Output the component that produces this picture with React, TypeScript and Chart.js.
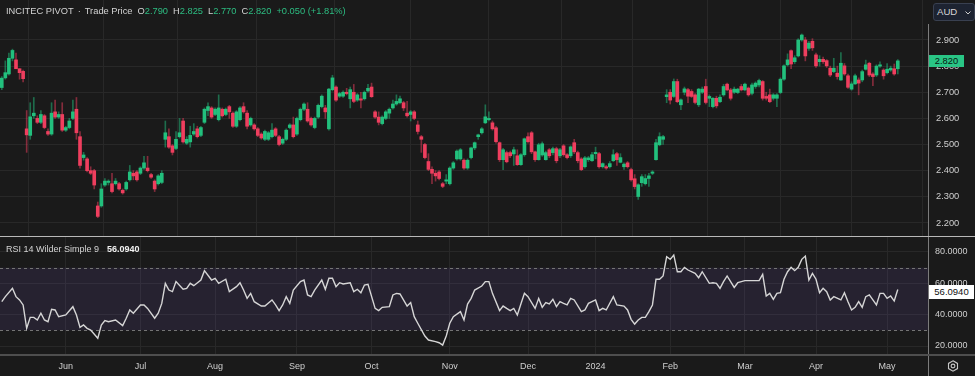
import React, { useEffect, useRef } from "react";
import { Chart, registerables } from "chart.js";

Chart.register(...registerables);

// ---------- DATA ----------
const openPrices = [
  2.718, 2.755, 2.77, 2.83, 2.824, 2.79, 2.78, 2.56, 2.535, 2.61,
  2.60, 2.585, 2.61, 2.55, 2.54, 2.625, 2.605, 2.615, 2.555, 2.565,
  2.60, 2.635, 2.53, 2.45, 2.445, 2.40, 2.40, 2.265, 2.265, 2.345,
  2.355, 2.35, 2.35, 2.35, 2.325, 2.33, 2.365, 2.39, 2.395, 2.39,
  2.41, 2.41, 2.385, 2.36, 2.35, 2.355, 2.52, 2.53, 2.495, 2.485,
  2.53, 2.59, 2.505, 2.51, 2.54, 2.56, 2.535, 2.585, 2.63, 2.64,
  2.615, 2.595, 2.635, 2.615, 2.645, 2.62, 2.57, 2.595, 2.645, 2.62,
  2.575, 2.575, 2.56, 2.54, 2.52, 2.52, 2.53, 2.56, 2.53, 2.505,
  2.52, 2.565, 2.575, 2.54, 2.595, 2.635, 2.635, 2.60, 2.565, 2.605,
  2.645, 2.64, 2.56, 2.71, 2.72, 2.685, 2.685, 2.70, 2.675, 2.70,
  2.67, 2.675, 2.675, 2.705, 2.72, 2.625, 2.605, 2.58, 2.60, 2.62,
  2.64, 2.655, 2.66, 2.66, 2.62, 2.615, 2.625, 2.575, 2.53, 2.50,
  2.435, 2.405, 2.39, 2.395, 2.35, 2.36, 2.35, 2.41, 2.445, 2.445,
  2.44, 2.41, 2.45, 2.487, 2.53, 2.545, 2.583, 2.595, 2.583, 2.564,
  2.507, 2.442, 2.469, 2.469, 2.464, 2.457, 2.423, 2.461, 2.53, 2.545,
  2.472, 2.442, 2.46, 2.442, 2.48, 2.469, 2.484, 2.457, 2.495, 2.461,
  2.457, 2.507, 2.469, 2.445, 2.415, 2.442, 2.438, 2.465, 2.465, 2.415,
  2.415, 2.415, 2.438, 2.465, 2.432, 2.415, 2.43, 2.404, 2.369, 2.301,
  2.354, 2.35, 2.37, 2.39, 2.442, 2.499, 2.52, 2.683, 2.70, 2.684,
  2.741, 2.652, 2.70, 2.71, 2.703, 2.69, 2.652, 2.70, 2.722, 2.677,
  2.645, 2.677, 2.664, 2.69, 2.731, 2.709, 2.70, 2.699, 2.722, 2.709,
  2.716, 2.696, 2.722, 2.728, 2.741, 2.684, 2.69, 2.677, 2.677, 2.699,
  2.75, 2.805, 2.859, 2.817, 2.839, 2.90, 2.90, 2.868, 2.895, 2.843,
  2.817, 2.826, 2.821, 2.792, 2.779, 2.773, 2.747, 2.801, 2.763, 2.712,
  2.732, 2.747, 2.747, 2.788, 2.811, 2.77, 2.766, 2.80, 2.785, 2.775,
  2.785, 2.79, 2.79,
];

const highPrices = [
  2.76, 2.82, 2.85, 2.865, 2.85, 2.79, 2.785, 2.63, 2.66, 2.68,
  2.61, 2.63, 2.615, 2.56, 2.66, 2.67, 2.625, 2.66, 2.57, 2.60,
  2.67, 2.68, 2.55, 2.47, 2.45, 2.415, 2.405, 2.28, 2.35, 2.37,
  2.365, 2.39, 2.37, 2.355, 2.33, 2.36, 2.42, 2.40, 2.40, 2.415,
  2.455, 2.455, 2.39, 2.365, 2.385, 2.40, 2.59, 2.56, 2.50, 2.55,
  2.60, 2.60, 2.53, 2.57, 2.58, 2.57, 2.57, 2.64, 2.66, 2.645,
  2.64, 2.69, 2.64, 2.64, 2.65, 2.625, 2.63, 2.645, 2.66, 2.63,
  2.605, 2.58, 2.565, 2.545, 2.555, 2.55, 2.58, 2.565, 2.535, 2.525,
  2.56, 2.58, 2.605, 2.605, 2.64, 2.66, 2.66, 2.605, 2.605, 2.655,
  2.69, 2.65, 2.715, 2.765, 2.725, 2.70, 2.705, 2.715, 2.72, 2.73,
  2.695, 2.70, 2.705, 2.73, 2.735, 2.63, 2.625, 2.61, 2.63, 2.64,
  2.67, 2.69, 2.685, 2.665, 2.665, 2.63, 2.63, 2.59, 2.535, 2.505,
  2.465, 2.415, 2.40, 2.40, 2.355, 2.385, 2.415, 2.435, 2.48, 2.485,
  2.445, 2.445, 2.49, 2.51, 2.54, 2.565, 2.652, 2.625, 2.59, 2.57,
  2.51, 2.485, 2.475, 2.475, 2.49, 2.48, 2.465, 2.525, 2.545, 2.55,
  2.475, 2.505, 2.51, 2.475, 2.485, 2.49, 2.49, 2.485, 2.50, 2.465,
  2.495, 2.52, 2.475, 2.45, 2.455, 2.455, 2.47, 2.49, 2.47, 2.43,
  2.42, 2.435, 2.48, 2.47, 2.465, 2.43, 2.435, 2.41, 2.385, 2.35,
  2.385, 2.385, 2.39, 2.40, 2.52, 2.545, 2.535, 2.71, 2.71, 2.751,
  2.75, 2.675, 2.72, 2.715, 2.71, 2.695, 2.715, 2.72, 2.75, 2.69,
  2.68, 2.685, 2.69, 2.73, 2.735, 2.715, 2.72, 2.715, 2.73, 2.735,
  2.72, 2.735, 2.74, 2.75, 2.745, 2.70, 2.712, 2.695, 2.695, 2.755,
  2.805, 2.847, 2.862, 2.84, 2.905, 2.923, 2.91, 2.895, 2.905, 2.85,
  2.84, 2.835, 2.825, 2.80, 2.83, 2.80, 2.852, 2.81, 2.77, 2.74,
  2.77, 2.755, 2.785, 2.823, 2.815, 2.775, 2.805, 2.816, 2.79, 2.81,
  2.80, 2.808, 2.825,
];

const lowPrices = [
  2.71, 2.75, 2.765, 2.82, 2.79, 2.75, 2.74, 2.47, 2.52, 2.60,
  2.58, 2.58, 2.56, 2.535, 2.535, 2.60, 2.60, 2.55, 2.55, 2.56,
  2.595, 2.52, 2.41, 2.44, 2.395, 2.385, 2.33, 2.22, 2.26, 2.34,
  2.345, 2.315, 2.345, 2.325, 2.31, 2.325, 2.36, 2.365, 2.36, 2.385,
  2.405, 2.395, 2.37, 2.32, 2.345, 2.35, 2.49, 2.485, 2.46, 2.48,
  2.525, 2.505, 2.50, 2.49, 2.535, 2.525, 2.53, 2.58, 2.61, 2.60,
  2.61, 2.59, 2.605, 2.61, 2.60, 2.565, 2.565, 2.59, 2.62, 2.56,
  2.57, 2.555, 2.53, 2.52, 2.515, 2.515, 2.525, 2.53, 2.495, 2.50,
  2.515, 2.56, 2.525, 2.535, 2.59, 2.63, 2.585, 2.57, 2.56, 2.60,
  2.64, 2.60, 2.555, 2.705, 2.665, 2.68, 2.68, 2.69, 2.64, 2.66,
  2.665, 2.64, 2.67, 2.70, 2.68, 2.60, 2.575, 2.575, 2.595, 2.60,
  2.635, 2.65, 2.655, 2.63, 2.605, 2.59, 2.595, 2.54, 2.47, 2.445,
  2.40, 2.35, 2.36, 2.365, 2.335, 2.35, 2.345, 2.405, 2.44, 2.44,
  2.405, 2.405, 2.445, 2.48, 2.52, 2.54, 2.58, 2.59, 2.555, 2.505,
  2.435, 2.404, 2.43, 2.45, 2.42, 2.42, 2.42, 2.455, 2.505, 2.465,
  2.435, 2.44, 2.455, 2.44, 2.45, 2.46, 2.43, 2.45, 2.455, 2.445,
  2.45, 2.465, 2.43, 2.40, 2.41, 2.435, 2.435, 2.445, 2.41, 2.41,
  2.405, 2.41, 2.435, 2.42, 2.43, 2.405, 2.41, 2.36, 2.33, 2.29,
  2.34, 2.345, 2.34, 2.385, 2.44, 2.495, 2.50, 2.66, 2.655, 2.68,
  2.66, 2.633, 2.69, 2.66, 2.68, 2.655, 2.645, 2.695, 2.655, 2.645,
  2.64, 2.64, 2.66, 2.685, 2.705, 2.67, 2.695, 2.695, 2.705, 2.705,
  2.685, 2.69, 2.715, 2.72, 2.67, 2.67, 2.66, 2.67, 2.645, 2.695,
  2.745, 2.80, 2.79, 2.81, 2.835, 2.895, 2.82, 2.86, 2.86, 2.795,
  2.80, 2.81, 2.795, 2.76, 2.775, 2.75, 2.745, 2.765, 2.715, 2.708,
  2.73, 2.69, 2.74, 2.785, 2.76, 2.725, 2.76, 2.795, 2.75, 2.77,
  2.78, 2.765, 2.77,
];

const closePrices = [
  2.754, 2.775, 2.83, 2.86, 2.79, 2.775, 2.752, 2.537, 2.606, 2.62,
  2.585, 2.615, 2.565, 2.54, 2.62, 2.605, 2.615, 2.555, 2.565, 2.59,
  2.625, 2.545, 2.42, 2.46, 2.40, 2.39, 2.345, 2.225, 2.33, 2.36,
  2.36, 2.32, 2.36, 2.33, 2.315, 2.355, 2.395, 2.38, 2.365, 2.41,
  2.43, 2.40, 2.375, 2.33, 2.38, 2.39, 2.545, 2.49, 2.47, 2.52,
  2.545, 2.51, 2.52, 2.535, 2.55, 2.53, 2.565, 2.635, 2.645, 2.605,
  2.635, 2.64, 2.61, 2.635, 2.625, 2.57, 2.625, 2.64, 2.625, 2.57,
  2.60, 2.56, 2.535, 2.525, 2.55, 2.545, 2.555, 2.535, 2.50, 2.52,
  2.555, 2.575, 2.53, 2.60, 2.635, 2.655, 2.59, 2.575, 2.60, 2.65,
  2.685, 2.625, 2.712, 2.755, 2.67, 2.695, 2.70, 2.695, 2.71, 2.665,
  2.69, 2.67, 2.70, 2.715, 2.683, 2.605, 2.585, 2.605, 2.625, 2.635,
  2.655, 2.665, 2.675, 2.64, 2.61, 2.625, 2.60, 2.55, 2.52, 2.45,
  2.405, 2.39, 2.38, 2.37, 2.34, 2.365, 2.41, 2.43, 2.475, 2.48,
  2.41, 2.44, 2.487, 2.507, 2.537, 2.56, 2.606, 2.60, 2.56, 2.511,
  2.442, 2.48, 2.434, 2.457, 2.48, 2.423, 2.461, 2.522, 2.511, 2.472,
  2.442, 2.499, 2.503, 2.469, 2.457, 2.484, 2.438, 2.48, 2.461, 2.45,
  2.491, 2.472, 2.438, 2.404, 2.449, 2.449, 2.461, 2.47, 2.415, 2.427,
  2.41, 2.427, 2.461, 2.442, 2.45, 2.425, 2.415, 2.365, 2.339, 2.346,
  2.377, 2.37, 2.38, 2.395, 2.507, 2.53, 2.53, 2.69, 2.67, 2.741,
  2.664, 2.671, 2.713, 2.685, 2.684, 2.661, 2.712, 2.712, 2.661, 2.684,
  2.677, 2.648, 2.681, 2.722, 2.709, 2.677, 2.712, 2.712, 2.709, 2.731,
  2.69, 2.728, 2.735, 2.745, 2.677, 2.677, 2.664, 2.69, 2.69, 2.75,
  2.801, 2.824, 2.808, 2.832, 2.90, 2.919, 2.839, 2.888, 2.87, 2.801,
  2.826, 2.817, 2.801, 2.766, 2.792, 2.76, 2.811, 2.77, 2.719, 2.732,
  2.763, 2.735, 2.779, 2.805, 2.766, 2.76, 2.80, 2.805, 2.763, 2.788,
  2.792, 2.77, 2.82,
];

const rsiBars = [
  0, 1, 3, 4, 5, 6, 7, 8, 9, 10, 11, 12, 13, 14, 15, 16, 18, 20, 21, 22,
  23, 24, 25, 27, 28, 29, 30, 32, 34, 35, 36, 37, 39, 40, 41, 43, 44, 45, 46, 47,
  48, 49, 51, 52, 53, 54, 56, 57, 59, 60, 61, 63, 64, 66, 67, 68, 69, 70, 71, 73,
  74, 76, 77, 78, 79, 80, 81, 82, 84, 85, 86, 87, 88, 90, 91, 92, 93, 94, 95, 96,
  98, 99, 100, 101, 102, 103, 105, 106, 107, 109, 110, 111, 112, 114, 115, 116, 117, 119, 120, 122,
  123, 124, 125, 126, 127, 129, 130, 131, 132, 133, 135, 136, 137, 138, 140, 141, 142, 143, 144, 145,
  146, 147, 148, 150, 151, 152, 153, 154, 155, 156, 157, 158, 159, 160, 161, 163, 164, 165, 167, 168,
  169, 170, 172, 173, 175, 176, 177, 178, 179, 180, 181, 182, 183, 184, 185, 186, 187, 188, 189, 190,
  191, 192, 193, 195, 196, 197, 199, 200, 201, 202, 203, 204, 206, 207, 208, 209, 212, 213, 214, 215,
  216, 217, 218, 219, 220, 221, 222, 223, 224, 225, 226, 227, 228, 229, 230, 231, 232, 233, 234, 236,
  237, 238, 239, 240, 241, 242, 243, 244, 245, 246, 247, 248, 249, 250, 251, 252,
];

const rsiValues = [
  48.3, 51.5, 56.8, 51.5, 49.4, 46.2, 31.3, 38.3, 38.3, 36.6, 40.9, 36.6, 35.5, 43.4, 43.0, 38.7, 39.8, 45.1, 39.8, 31.9,
  33.4, 31.3, 30.2, 24.9, 33.4, 36.2, 35.5, 36.6, 33.0, 37.7, 43.0, 40.9, 46.2, 46.2, 44.0, 37.7, 40.9, 47.2, 60.0, 55.7,
  54.7, 61.1, 56.2, 56.8, 60.0, 58.5, 62.1, 68.1, 62.1, 63.2, 60.0, 62.6, 54.7, 57.9, 60.4, 55.7, 50.4, 53.6, 48.3, 45.5,
  45.5, 49.4, 46.2, 42.6, 46.2, 51.5, 47.2, 55.7, 61.1, 62.1, 52.6, 51.5, 55.7, 62.1, 56.2, 63.2, 63.2, 57.9, 60.4, 59.6,
  60.4, 54.7, 56.2, 54.0, 58.9, 59.4, 44.0, 42.6, 44.7, 45.1, 52.6, 53.6, 53.2, 45.5, 47.7, 38.7, 34.5, 26.4, 23.8, 22.8,
  22.1, 20.6, 26.4, 34.5, 38.7, 41.9, 36.6, 46.8, 50.4, 55.7, 58.3, 61.1, 61.1, 53.6, 42.6, 45.5, 44.0, 42.6, 44.0, 39.8,
  46.8, 53.6, 51.5, 44.0, 50.4, 44.7, 47.7, 46.8, 49.8, 45.1, 48.3, 47.2, 46.2, 50.4, 49.4, 41.9, 43.0, 47.2, 49.4, 42.6,
  44.0, 43.0, 51.5, 46.2, 45.5, 43.0, 37.0, 34.0, 36.6, 38.3, 38.3, 41.9, 46.2, 62.6, 62.6, 64.7, 77.0, 75.3, 78.1, 67.4,
  67.4, 70.2, 68.5, 66.4, 63.6, 67.4, 60.0, 60.4, 60.0, 56.8, 61.1, 64.7, 57.4, 60.4, 61.1, 61.7, 61.7, 61.7, 65.7, 51.9,
  53.6, 49.8, 53.6, 54.0, 62.6, 67.4, 70.2, 68.1, 70.2, 75.3, 77.4, 62.1, 66.4, 62.6, 54.0, 56.8, 54.7, 49.4, 51.5, 49.4,
  54.0, 48.3, 43.0, 44.7, 48.3, 44.7, 51.5, 52.6, 49.4, 46.2, 53.6, 53.6, 50.4, 51.9, 48.7, 56.094,
];

const monthTickIndex = [18, 39, 60, 83, 104, 126, 148, 167, 188, 209, 229, 249];
const monthTickLabel = ["Jun", "Jul", "Aug", "Sep", "Oct", "Nov", "Dec", "2024", "Feb", "Mar", "Apr", "May"];
const priceTicks = [2.2, 2.3, 2.4, 2.5, 2.6, 2.7, 2.8, 2.9];
const rsiTicks = [20, 40, 60, 80];
const rsiBandLevels = [70, 30];

// ---------- STYLE ----------
const BG = "#1a1a1a";
const GRID = "#282828";
const TXT = "#cfcfcf";
const GREEN = "#22c07d";
const RED = "#ef3e5e";
const GREEN_WICK = "rgba(34,192,125,0.5)";
const RED_WICK = "rgba(239,62,94,0.5)";
const FONT = "'Liberation Sans', Arial, sans-serif";
const X_MIN = -0.5;
const X_MAX = 260.5;

const rsiBandPlugin = {
  id: "rsiBand",
  beforeDatasetsDraw(chart: any) {
    const { ctx, chartArea, scales } = chart;
    const y = scales.y;
    const yTop = y.getPixelForValue(rsiBandLevels[0]);
    const yBot = y.getPixelForValue(rsiBandLevels[1]);
    ctx.save();
    ctx.fillStyle = "rgba(125,90,200,0.13)";
    ctx.fillRect(chartArea.left, yTop, chartArea.right - chartArea.left, yBot - yTop);
    ctx.strokeStyle = "#747474";
    ctx.lineWidth = 1;
    ctx.setLineDash([3, 3]);
    for (const yy of [yTop, yBot]) {
      const p = Math.round(yy) + 0.5;
      ctx.beginPath();
      ctx.moveTo(chartArea.left, p);
      ctx.lineTo(chartArea.right, p);
      ctx.stroke();
    }
    ctx.restore();
  },
};

function xAxis(showLabels: boolean) {
  return {
    type: "linear",
    min: X_MIN,
    max: X_MAX,
    offset: false,
    grid: { color: GRID, drawTicks: false },
    border: { display: false },
    ticks: {
      display: showLabels,
      autoSkip: false,
      maxRotation: 0,
      padding: 6,
      color: TXT,
      font: { family: FONT, size: 9 },
      callback: (v: any) => {
        const k = monthTickIndex.indexOf(Number(v));
        return k >= 0 ? monthTickLabel[k] : "";
      },
    },
    afterBuildTicks: (s: any) => {
      s.ticks = monthTickIndex.map((v) => ({ value: v }));
    },
    afterFit: (s: any) => {
      s.height = showLabels ? 21 : 0;
      s.paddingLeft = 0;
      s.paddingRight = 0;
    },
  };
}

export default function App() {
  const priceRef = useRef<HTMLCanvasElement>(null);
  const rsiRef = useRef<HTMLCanvasElement>(null);

  useEffect(() => {
    const idx = closePrices.map((_, i) => i);
    const up = idx.map((i) => closePrices[i] >= openPrices[i]);

    const priceChart = new Chart(priceRef.current as HTMLCanvasElement, {
      type: "bar",
      data: {
        datasets: [
          {
            label: "wick",
            data: idx.map((i) => ({ x: i, y: [lowPrices[i], highPrices[i]] })),
            backgroundColor: up.map((u) => (u ? GREEN_WICK : RED_WICK)),
            barThickness: 1,
            grouped: false,
            order: 2,
          } as any,
          {
            label: "body",
            data: idx.map((i) => ({ x: i, y: [openPrices[i], closePrices[i]] })),
            backgroundColor: up.map((u) => (u ? GREEN : RED)),
            barThickness: 3,
            minBarLength: 1,
            grouped: false,
            order: 1,
          } as any,
        ],
      },
      options: {
        animation: false,
        responsive: false,
        devicePixelRatio: 1,
        layout: { padding: 0 },
        plugins: { legend: { display: false }, tooltip: { enabled: false } },
        scales: {
          x: xAxis(false) as any,
          y: {
            position: "right",
            min: 2.15,
            max: 3.053,
            grid: { color: GRID, drawTicks: false },
            border: { display: false },
            ticks: {
              color: TXT,
              padding: 8,
              font: { family: FONT, size: 9.3 },
              callback: (v: any) => Number(v).toFixed(3),
            },
            afterBuildTicks: (s: any) => {
              s.ticks = priceTicks.map((v) => ({ value: v }));
            },
            afterFit: (s: any) => {
              s.width = 47;
              s.paddingTop = 0;
              s.paddingBottom = 0;
            },
          } as any,
        },
      },
    });

    const rsiChart = new Chart(rsiRef.current as HTMLCanvasElement, {
      type: "line",
      data: {
        datasets: [
          {
            label: "RSI",
            data: rsiBars.map((b, k) => ({ x: b, y: rsiValues[k] })),
            borderColor: "#d6d6d6",
            borderWidth: 1.4,
            pointRadius: 0,
            tension: 0,
            fill: false,
          },
        ],
      },
      options: {
        animation: false,
        responsive: false,
        devicePixelRatio: 1,
        layout: { padding: 0 },
        plugins: { legend: { display: false }, tooltip: { enabled: false } },
        scales: {
          x: xAxis(true) as any,
          y: {
            position: "right",
            min: 14.26,
            max: 89.57,
            grid: { color: GRID, drawTicks: false },
            border: { display: false },
            ticks: {
              color: TXT,
              padding: 7,
              font: { family: FONT, size: 9 },
              callback: (v: any) => Number(v).toFixed(4),
            },
            afterBuildTicks: (s: any) => {
              s.ticks = rsiTicks.map((v) => ({ value: v }));
            },
            afterFit: (s: any) => {
              s.width = 47;
              s.paddingTop = 0;
              s.paddingBottom = 0;
            },
          } as any,
        },
      },
      plugins: [rsiBandPlugin],
    });

    return () => {
      priceChart.destroy();
      rsiChart.destroy();
    };
  }, []);

  const green = { color: "#2dbd82" };
  const gap = { marginLeft: 5 };

  return (
    <div
      style={{
        position: "fixed",
        left: 0,
        top: 0,
        width: 975,
        height: 376,
        background: BG,
        overflow: "hidden",
        fontFamily: FONT,
      }}
    >
      <canvas
        ref={priceRef}
        width={975}
        height={236}
        style={{ position: "absolute", left: 0, top: 0, width: 975, height: 236, display: "block" }}
      />
      <canvas
        ref={rsiRef}
        width={975}
        height={139}
        style={{ position: "absolute", left: 0, top: 237, width: 975, height: 139, display: "block" }}
      />

      {/* separators */}
      <div style={{ position: "absolute", left: 928, top: 24, width: 1, height: 352, background: "#7c7c7c" }} />
      <div style={{ position: "absolute", left: 0, top: 236, width: 975, height: 1, background: "#b8b8b8" }} />
      <div style={{ position: "absolute", left: 0, top: 354, width: 975, height: 2, background: "#4e4e4e" }} />

      {/* price header */}
      <div
        style={{
          position: "absolute",
          left: 6,
          top: 5,
          fontSize: 9.3,
          lineHeight: "12px",
          color: "#d4d4d4",
          whiteSpace: "nowrap",
        }}
      >
        INCITEC PIVOT<span style={{ margin: "0 4px" }}>·</span>Trade Price
        <span style={gap}>O</span>
        <span style={green}>2.790</span>
        <span style={gap}>H</span>
        <span style={green}>2.825</span>
        <span style={gap}>L</span>
        <span style={green}>2.770</span>
        <span style={gap}>C</span>
        <span style={green}>2.820</span>
        <span style={{ ...gap, ...green }}>+0.050 (+1.81%)</span>
      </div>

      {/* currency selector */}
      <div
        style={{
          position: "absolute",
          left: 933,
          top: 3,
          width: 37,
          height: 16,
          background: "#1d2331",
          border: "1px solid #394050",
          borderRadius: 3,
          color: "#d6d6d6",
          fontSize: 9.6,
          lineHeight: "16px",
          paddingLeft: 3,
          boxSizing: "content-box",
        }}
      >
        AUD
        <svg width="6" height="4" viewBox="0 0 6 4" style={{ position: "absolute", left: 31, top: 7 }}>
          <polyline points="0.5,0.5 3,3 5.5,0.5" fill="none" stroke="#cfcfcf" strokeWidth="1" />
        </svg>
      </div>

      {/* last price label */}
      <div
        style={{
          position: "absolute",
          left: 929,
          top: 55,
          width: 35,
          height: 12,
          background: "#29c585",
          color: "#08170f",
          fontSize: 9.3,
          lineHeight: "12px",
          textAlign: "center",
        }}
      >
        2.820
      </div>

      {/* RSI header */}
      <div
        style={{
          position: "absolute",
          left: 6,
          top: 243,
          fontSize: 9,
          lineHeight: "12px",
          color: "#d4d4d4",
          whiteSpace: "nowrap",
        }}
      >
        RSI 14 Wilder Simple 9
        <span style={{ marginLeft: 8, color: "#f2f2f2", fontWeight: 700 }}>56.0940</span>
      </div>

      {/* RSI value label */}
      <div
        style={{
          position: "absolute",
          left: 929,
          top: 285,
          width: 45,
          height: 14,
          background: "#ffffff",
          color: "#111111",
          fontSize: 9.5,
          lineHeight: "14px",
          textAlign: "center",
        }}
      >
        56.0940
      </div>

      {/* settings icon */}
      <svg
        width="12"
        height="12"
        viewBox="0 0 12 12"
        style={{ position: "absolute", left: 947, top: 360 }}
      >
        <polygon points="6,0.8 10.5,3.4 10.5,8.6 6,11.2 1.5,8.6 1.5,3.4" fill="none" stroke="#c8c8c8" strokeWidth="1.1" />
        <circle cx="6" cy="6" r="1.9" fill="none" stroke="#c8c8c8" strokeWidth="1.1" />
      </svg>
    </div>
  );
}
